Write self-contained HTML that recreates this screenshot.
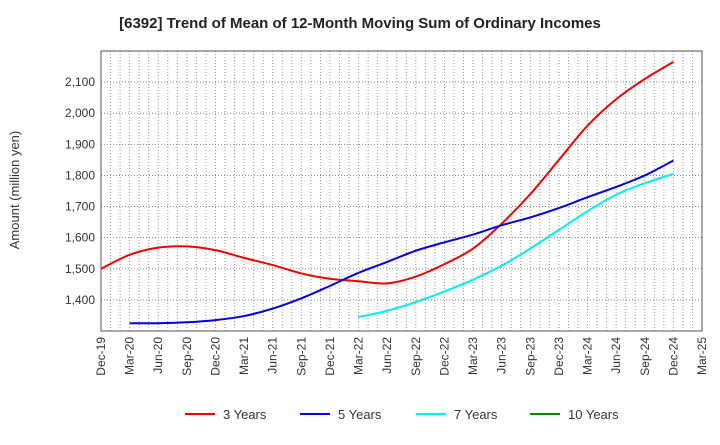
<!DOCTYPE html>
<html><head><meta charset="utf-8"><style>
body{margin:0;background:#fff;font-family:"Liberation Sans",sans-serif;}
</style></head><body>
<svg id="c" width="720" height="440" xmlns="http://www.w3.org/2000/svg" font-family="Liberation Sans, sans-serif">
<text x="360" y="28" text-anchor="middle" font-size="15" font-weight="bold" fill="#222">[6392]  Trend of Mean of 12-Month Moving Sum of Ordinary Incomes</text>
<text transform="translate(19,190) rotate(-90)" text-anchor="middle" font-size="13" fill="#333">Amount (million yen)</text>
<g id="grid"></g><g id="axes"></g><g id="series"></g><g id="legend"></g>
</svg>
<script>
const xLabels=["Dec-19","Mar-20","Jun-20","Sep-20","Dec-20","Mar-21","Jun-21","Sep-21","Dec-21","Mar-22","Jun-22","Sep-22","Dec-22","Mar-23","Jun-23","Sep-23","Dec-23","Mar-24","Jun-24","Sep-24","Dec-24","Mar-25"];
const yTicks=[1400,1500,1600,1700,1800,1900,2000,2100];
const seriesNames=["3 Years","5 Years","7 Years","10 Years"];
const seriesColors=["#ee0000","#0000dd","#00eeee","#008800"];
const s3=[1500,1545,1568,1572,1560,1535,1512,1485,1468,1460,1453,1475,1515,1565,1645,1740,1850,1960,2045,2110,2165];
const s5=[null,1325,1325,1328,1335,1348,1372,1405,1445,1487,1522,1558,1585,1610,1640,1665,1695,1730,1763,1800,1848];
const s7=[null,null,null,null,null,null,null,null,null,1345,1365,1393,1427,1465,1510,1565,1625,1685,1738,1775,1805];
const s10=[];
const L=101,R=702,T=51,B=331,yMin=1300,yMax=2200;
const NS="http://www.w3.org/2000/svg";
const qx=i=>L+(R-L)*i/(xLabels.length-1);
const y=v=>B-(v-yMin)/(yMax-yMin)*(B-T);
function mk(t,a,p){const e=document.createElementNS(NS,t);for(const k in a)e.setAttribute(k,a[k]);p.appendChild(e);return e;}
const grid=document.getElementById('grid'),axes=document.getElementById('axes'),ser=document.getElementById('series'),leg=document.getElementById('legend');
for(let m=1;m<(xLabels.length-1)*3;m++){const x=L+(R-L)*m/((xLabels.length-1)*3);
const g=mk('line',{x1:x,x2:x,y1:T,y2:B,stroke:'#999','stroke-dasharray':'1,2','stroke-width':1},grid);

}
yTicks.forEach(v=>{const g=mk('line',{x1:L,x2:R,y1:y(v),y2:y(v),stroke:'#888','stroke-dasharray':'1,2','stroke-width':1},grid);


const t=mk('text',{x:L-6,y:y(v)+4,'text-anchor':'end','font-size':12,fill:'#333'},axes);t.textContent=v.toLocaleString('en-US');

});
const fr=mk('rect',{x:L,y:T,width:R-L,height:B-T,fill:'none',stroke:'#555','stroke-width':1},axes);


xLabels.forEach((l,i)=>{const x=qx(i);const t=mk('text',{transform:`translate(${x+4},${B+6}) rotate(-90)`,'text-anchor':'end','font-size':12,fill:'#333'},axes);t.textContent=l;

});
function path(arr){const pts=[];arr.forEach((v,i)=>{if(v!=null)pts.push([qx(i),y(v)]);});if(pts.length<2)return '';
let d=`M${pts[0][0]},${pts[0][1]}`;for(let i=0;i<pts.length-1;i++){const p0=pts[Math.max(0,i-1)],p1=pts[i],p2=pts[i+1],p3=pts[Math.min(pts.length-1,i+2)];
const c1=[p1[0]+(p2[0]-p0[0])/6,p1[1]+(p2[1]-p0[1])/6],c2=[p2[0]-(p3[0]-p1[0])/6,p2[1]-(p3[1]-p1[1])/6];d+=`C${c1[0]},${c1[1]} ${c2[0]},${c2[1]} ${p2[0]},${p2[1]}`;}return d;}
[s3,s5,s7,s10].forEach((s,k)=>{const d=path(s);if(!d)return;const p=mk('path',{d,fill:'none',stroke:seriesColors[k],'stroke-width':2},ser);

});
const lx=[185,300,416,530];
seriesNames.forEach((n,k)=>{const g=mk('g',{},leg);


mk('line',{x1:lx[k],x2:lx[k]+30,y1:414,y2:414,stroke:seriesColors[k],'stroke-width':2},g);
const t=mk('text',{x:lx[k]+38,y:419,'font-size':13,fill:'#333'},g);t.textContent=n;});
</script>
</body></html>
